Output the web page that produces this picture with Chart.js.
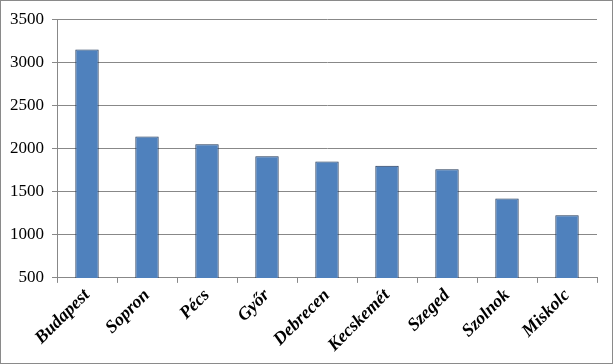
<!DOCTYPE html>
<html>
<head>
<meta charset="utf-8">
<script src="https://cdn.jsdelivr.net/npm/chart.js@4"></script>
<style>
  html, body { margin: 0; padding: 0; background: #fff; }
  #wrap { width: 613px; height: 364px; box-sizing: border-box; border: 1px solid #8a8a8a; position: relative; }
</style>
</head>
<body>
<div id="wrap"><canvas id="myChart"></canvas></div>
<script>
// cities and their values
const cities = ['Budapest', 'Sopron', 'Pécs', 'Győr', 'Debrecen', 'Kecskemét', 'Szeged', 'Szolnok', 'Miskolc'];
const values = [3150, 2140, 2050, 1910, 1850, 1800, 1760, 1420, 1225];
const yMin = 500;
const yMax = 3500;
const yStep = 500;

const ctx = document.getElementById('myChart');
new Chart(ctx, {
    type: 'bar',
    data: {
        labels: cities,
        datasets: [{
            data: values,
            backgroundColor: '#4f81bd',
            borderColor: '#1f3556',
            borderWidth: 1,
            borderSkipped: false,
            barPercentage: 0.78,
            categoryPercentage: 0.5
        }]
    },
    options: {
        responsive: true,
        maintainAspectRatio: false,
        animation: false,
        layout: { padding: { top: 8, right: 15, left: 1, bottom: 5 } },
        plugins: {
            legend: { display: false },
            tooltip: { enabled: false }
        },
        scales: {
            x: {
                grid: {
                    offset: true,
                    drawOnChartArea: false,
                    color: '#888',
                    tickLength: 5
                },
                border: { color: '#888' },
                ticks: {
                    minRotation: 45,
                    maxRotation: 45,
                    color: '#000',
                    padding: 2,
                    font: { family: 'Liberation Serif', size: 18, weight: 'bold', style: 'italic' }
                }
            },
            y: {
                min: yMin,
                max: yMax,
                grid: { color: '#888', tickLength: 5 },
                border: { color: '#888' },
                ticks: {
                    stepSize: yStep,
                    color: '#000',
                    padding: 8,
                    font: { family: 'Liberation Serif', size: 17 },
                    callback: v => String(v)
                }
            }
        }
    }
});
</script>
</body>
</html>
